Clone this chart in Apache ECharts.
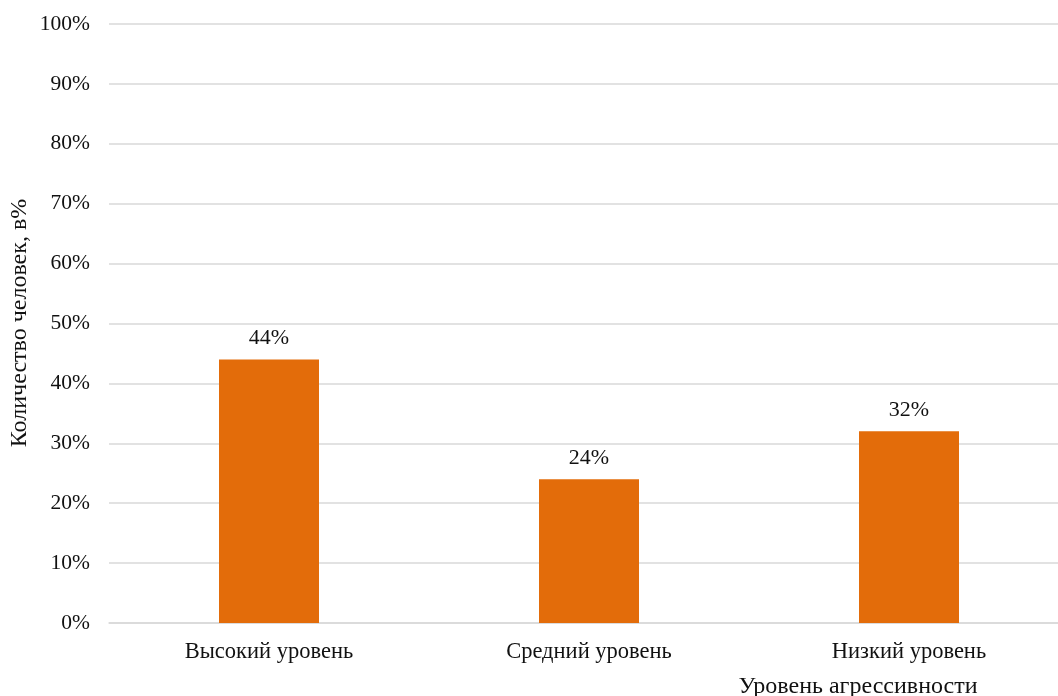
<!DOCTYPE html>
<html>
<head>
<meta charset="utf-8">
<style>
  html, body { margin: 0; padding: 0; background: #fff; overflow: hidden; width: 1058px; height: 696px; }
  #chart { width: 1080px; height: 696px; }
</style>
<script src="https://cdn.jsdelivr.net/npm/echarts@6/dist/echarts.min.js"></script>
</head>
<body>
<div id="chart"></div>
<script>
// Aggression level distribution, percent of people
const categories = ['Высокий уровень', 'Средний уровень', 'Низкий уровень'];
const values = [44, 24, 32];
const yTicks = [0, 10, 20, 30, 40, 50, 60, 70, 80, 90, 100];
const yAxisTitle = 'Количество человек, в%';
const xAxisTitle = 'Уровень агрессивности';

const font = '"Liberation Serif", "Times New Roman", serif';
const chart = echarts.init(document.getElementById('chart'));

chart.setOption({
  animation: false,
  backgroundColor: '#ffffff',
  grid: { left: 109, top: 24, width: 960, height: 599, containLabel: false },
  xAxis: {
    type: 'category',
    data: categories,
    axisLine: { show: true, lineStyle: { color: '#d9d9d9', width: 1.5 } },
    axisTick: { show: false },
    axisLabel: { color: '#111', fontFamily: font, fontSize: 22.5, margin: 18 }
  },
  yAxis: {
    type: 'value',
    min: yTicks[0],
    max: yTicks[yTicks.length - 1],
    interval: 10,
    axisLine: { show: false },
    axisTick: { show: false },
    splitLine: { lineStyle: { color: '#d9d9d9', width: 1.5 } },
    axisLabel: { color: '#111', fontFamily: font, fontSize: 21.5, margin: 19, formatter: '{value}%' }
  },
  graphic: [
    {
      type: 'text',
      x: 858, y: 687,
      style: { text: xAxisTitle, font: '24px ' + font, fill: '#111', textAlign: 'center', textVerticalAlign: 'middle' }
    },
    {
      type: 'text',
      x: 20, y: 323, rotation: Math.PI / 2,
      style: { text: yAxisTitle, font: '24px ' + font, fill: '#111', textAlign: 'center', textVerticalAlign: 'middle' }
    }
  ],
  series: [{
    type: 'bar',
    data: values,
    barWidth: 100,
    itemStyle: { color: '#e36c0a' },
    label: {
      show: true,
      position: 'top',
      distance: 10,
      formatter: '{c}%',
      color: '#111',
      fontFamily: font,
      fontSize: 22
    }
  }]
});
</script>
</body>
</html>
